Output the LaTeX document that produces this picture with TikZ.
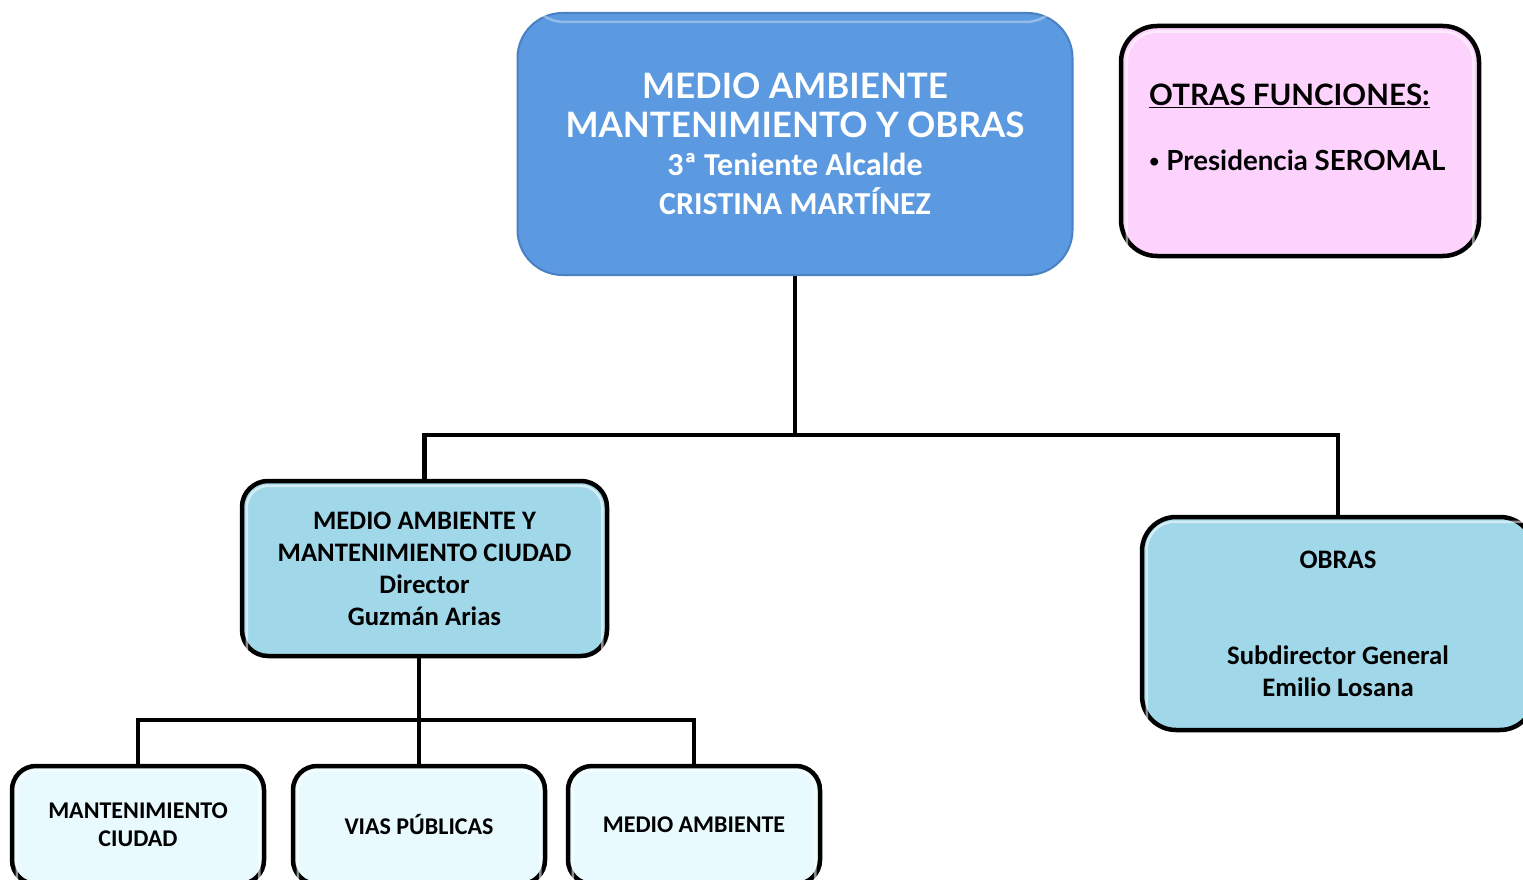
\documentclass[tikz,border=0pt]{standalone}
\usepackage{fontspec}
\setmainfont{Carlito}
\newfontfamily\gill{Lato}
\usetikzlibrary{backgrounds}
\definecolor{topblue}{HTML}{5B99E0}
\definecolor{topedge}{HTML}{4A80C4}
\definecolor{midblue}{HTML}{A0D8EA}
\definecolor{lightblue}{HTML}{E8FAFE}
\definecolor{pinkfill}{HTML}{FDD3FD}
\tikzset{
  orgbox/.style={draw=black, line width=4.5pt, rounded corners=28pt, align=center, inner sep=0pt, font=\bfseries},
  conn/.style={draw=black, line width=4.5pt},
  gloss/.style={draw=white, opacity=0.55, line width=2.5pt},
}
\begin{document}
\begin{tikzpicture}[x=1pt,y=-1pt]
\useasboundingbox (0,0) rectangle (1523,880);
% top
\node[orgbox, draw=topedge, line width=2pt, fill=topblue, rounded corners=45pt, text=white,
  minimum width=555, minimum height=262, font=\bfseries\fontsize{32}{38.5}\selectfont] (top) at (795,144)
  {{\gill\bfseries\fontsize{35}{38.5}\selectfont MEDIO AMBIENTE}\\
   {\gill\bfseries\fontsize{35}{38.5}\selectfont MANTENIMIENTO Y OBRAS}\\
   3ª Teniente Alcalde\\
   CRISTINA MARTÍNEZ};
\draw[gloss, opacity=0.35, rounded corners=38pt] ([shift={(10pt,40pt)}]top.north west) -- ([shift={(10pt,-10pt)}]top.north west) -- ([shift={(-10pt,-10pt)}]top.north east) -- ([shift={(-10pt,40pt)}]top.north east);
% otras
\node[orgbox, fill=pinkfill, rounded corners=36pt, minimum width=358, minimum height=230] (otras) at (1300,141) {};
\draw[gloss, rounded corners=30pt] ([shift={(8pt,8pt)}]otras.south west) -- ([shift={(8pt,-8pt)}]otras.north west) -- ([shift={(-8pt,-8pt)}]otras.north east) -- ([shift={(-8pt,8pt)}]otras.south east);
\node[anchor=base west, inner sep=0pt, font=\gill\bfseries\fontsize{29.5}{34}\selectfont] (otrastit) at (1149,106) {\underline{OTRAS FUNCIONES:}};
\node[anchor=base west, inner sep=0pt, font=\gill\bfseries\fontsize{27.7}{34}\selectfont] (otrasitem) at (1149,170) {{\fontsize{18}{18}\selectfont\raisebox{2pt}{•}} Presidencia SEROMAL};
% level 2
\node[orgbox, fill=midblue, rounded corners=26pt, minimum width=365, minimum height=175,
  font=\bfseries\fontsize{26.7}{32}\selectfont] (mamc) at (424.5,568.5)
  {MEDIO AMBIENTE Y\\MANTENIMIENTO CIUDAD\\Director\\Guzmán Arias};
\draw[gloss, rounded corners=22pt] ([shift={(7pt,7pt)}]mamc.south west) -- ([shift={(7pt,-7pt)}]mamc.north west) -- ([shift={(-7pt,-7pt)}]mamc.north east) -- ([shift={(-7pt,7pt)}]mamc.south east);
\node[orgbox, fill=midblue, rounded corners=34pt, minimum width=392, minimum height=213,
  font=\bfseries\fontsize{26.7}{32}\selectfont] (obras) at (1338,623.5)
  {OBRAS\\ \\ \\Subdirector General\\Emilio Losana};
\draw[gloss, rounded corners=28pt] ([shift={(7pt,7pt)}]obras.south west) -- ([shift={(7pt,-7pt)}]obras.north west) -- ([shift={(-7pt,-7pt)}]obras.north east);
% level 3
\tikzset{leaf/.style={orgbox, fill=lightblue, rounded corners=24pt, minimum width=252, minimum height=118,
  font=\bfseries\fontsize{24}{28}\selectfont}}
\node[leaf] (mc) at (138,825) {MANTENIMIENTO\\CIUDAD};
\node[leaf] (vp) at (419,825) {VIAS PÚBLICAS};
\node[leaf] (ma) at (694,825) {MEDIO AMBIENTE};
\foreach \n in {mc,vp,ma}{
  \draw[gloss, rounded corners=20pt] ([shift={(7pt,7pt)}]\n.south west) -- ([shift={(7pt,-7pt)}]\n.north west) -- ([shift={(-7pt,-7pt)}]\n.north east) -- ([shift={(-7pt,7pt)}]\n.south east);
}
% connectors
\coordinate (j1) at (795,435);
\coordinate (j2) at (419,720);
\begin{scope}[on background layer]
\fill[white] (0,0) rectangle (1523,880);
\draw[conn] (top.south) -- (j1);
\draw[conn] (mamc.north) |- (j1) -| (obras.north);
\draw[conn] ([xshift=-5.5pt]mamc.south) -- (j2);
\draw[conn] (mc.north) |- (j2) -| (ma.north);
\draw[conn] (j2) -- (vp.north);
\end{scope}
\end{tikzpicture}
\end{document}
